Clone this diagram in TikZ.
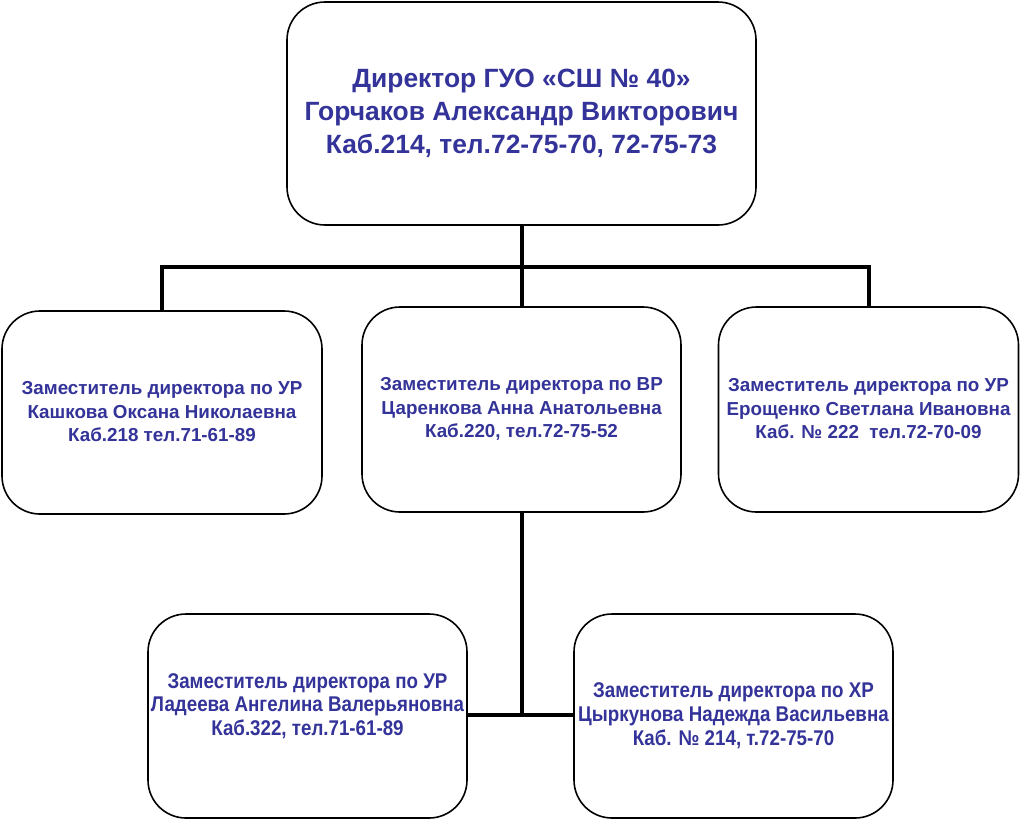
\documentclass[tikz,border=0pt]{standalone}
\usepackage{fontspec}
\setmainfont{Liberation Sans}
\newfontfamily\narrowfont[FakeStretch=0.88]{Liberation Sans}
\definecolor{txtblue}{RGB}{51,51,153}
\begin{document}
\begin{tikzpicture}[x=1pt,y=-1pt,
  box/.style={draw=black, line width=1.6pt, rounded corners=38pt, fill=white, inner sep=0pt},
  txt/.style={text=txtblue, align=center, font=\bfseries},
  conn/.style={draw=black, line width=4pt}]
\useasboundingbox (0,0) rectangle (1024,820);
\coordinate (j) at (521.5,267);
\coordinate (j2) at (521.5,715);
\node[box, minimum width=469pt, minimum height=223pt] (top) at (521.5,113.5) {};
\node[box, minimum width=320pt, minimum height=203pt] (left) at (162,412.5) {};
\node[box, minimum width=319pt, minimum height=205pt] (mid) at (521.5,409.5) {};
\node[box, minimum width=300pt, minimum height=205pt] (right) at (868.5,409.5) {};
\node[box, minimum width=319pt, minimum height=204pt] (bl) at (307.5,716) {};
\node[box, minimum width=319pt, minimum height=204pt] (br) at (733.5,716) {};
\draw[conn] (top.south) -- (mid.north);
\draw[conn, line join=miter] (left.north) |- (j) -| (right.north);
\draw[conn] (mid.south) -- (j2);
\draw[conn] (bl.east |- j2) -- (br.west |- j2);
\node[txt, font=\fontsize{26.4}{33}\selectfont\bfseries] (toptxt) at (521.5,113)
  {Директор ГУО «СШ № 40»\\Горчаков Александр Викторович\\Каб.214, тел.72-75-70, 72-75-73};
\node[txt, font=\fontsize{18.8}{23.5}\selectfont\bfseries] (lefttxt) at (162,412)
  {Заместитель директора по УР\\Кашкова Оксана Николаевна\\Каб.218 тел.71-61-89};
\node[txt, font=\fontsize{18.8}{23.5}\selectfont\bfseries] (midtxt) at (521.5,409)
  {Заместитель директора по ВР\\Царенкова Анна Анатольевна\\Каб.220, тел.72-75-52};
\node[txt, font=\fontsize{18.8}{23.5}\selectfont\bfseries] (righttxt) at (868.5,409)
  {Заместитель директора по УР\\Ерощенко Светлана Ивановна\\Каб. № 222\ \ тел.72-70-09};
\node[txt, font=\narrowfont\fontsize{21.3}{23.5}\selectfont\bfseries] (bltxt) at (307.5,706)
  {Заместитель директора по УР\\Ладеева Ангелина Валерьяновна\\Каб.322, тел.71-61-89};
\node[txt, font=\narrowfont\fontsize{21.3}{24}\selectfont\bfseries] (brtxt) at (733.5,716)
  {Заместитель директора по ХР\\Цыркунова Надежда Васильевна\\Каб. № 214, т.72-75-70};
\end{tikzpicture}
\end{document}
